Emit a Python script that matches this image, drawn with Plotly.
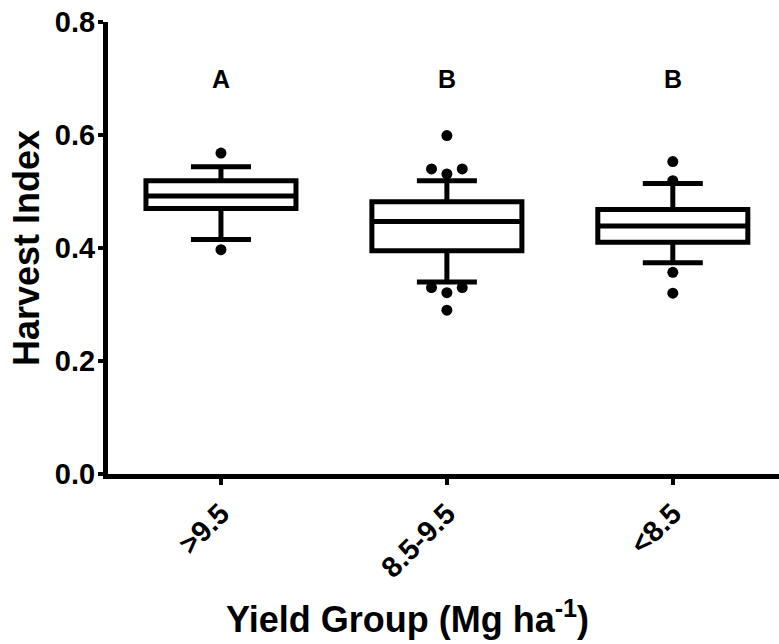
import plotly.graph_objects as go

# ---- data ----
categories = [">9.5", "8.5-9.5", "<8.5"]
q1 = [0.470, 0.395, 0.410]
median = [0.492, 0.447, 0.439]
q3 = [0.519, 0.482, 0.468]
lower_whisker = [0.415, 0.340, 0.374]
upper_whisker = [0.544, 0.519, 0.514]
outliers_g1 = [0.568, 0.397]
outliers_g2 = [0.599, 0.540, 0.531, 0.540, 0.330, 0.321, 0.330, 0.290]
outliers_g3 = [0.553, 0.519, 0.357, 0.320]
letters = ["A", "B", "B"]
letter_y = 0.70
y_ticks = [0.0, 0.2, 0.4, 0.6, 0.8]

FONT = "Arial, 'Liberation Sans', Helvetica, sans-serif"

# spread close outliers side by side (GraphPad-style)
def spread(vals, thr=0.015, step=0.068):
    vs = sorted(vals)
    clusters = []
    for v in vs:
        if clusters and v - clusters[-1][-1] < thr:
            clusters[-1].append(v)
        else:
            clusters.append([v])
    out = []
    for c in clusters:
        order = [0]
        k = 1
        while len(order) < len(c):
            order.append(-k)
            if len(order) < len(c):
                order.append(k)
            k += 1
        for v, o in zip(c, order):
            out.append((o * step, v))
    return out

xs, ys = [], []
for i, g in enumerate([outliers_g1, outliers_g2, outliers_g3]):
    for off, v in spread(g):
        xs.append(i + off)
        ys.append(v)

fig = go.Figure()
fig.add_trace(go.Box(
    x=[0, 1, 2],
    q1=q1, median=median, q3=q3,
    lowerfence=lower_whisker, upperfence=upper_whisker,
    width=0.664, whiskerwidth=0.40,
    fillcolor="white",
    line=dict(color="black", width=5),
    boxpoints=False,
    showlegend=False,
    hoverinfo="skip",
))
fig.add_trace(go.Scatter(
    x=xs, y=ys, mode="markers",
    marker=dict(color="black", size=11),
    showlegend=False, hoverinfo="skip",
))

for i, t in enumerate(letters):
    fig.add_annotation(x=i, y=letter_y, text=t, showarrow=False,
                       font=dict(family=FONT, size=25, color="black", weight="bold"))

# x-axis title (placed as annotation to match reference offset)
fig.add_annotation(x=0.447, xref="paper", y=0, yref="paper",
                   yanchor="middle", yshift=-143, showarrow=False,
                   text="Yield Group (Mg ha<sup>-1</sup>)",
                   font=dict(family=FONT, size=36, color="black", weight="bold"))

fig.update_layout(
    width=779, height=644,
    margin=dict(l=108, r=0, t=22, b=170, pad=0),
    plot_bgcolor="white", paper_bgcolor="white",
    font=dict(family=FONT, color="black", weight="bold"),
    xaxis=dict(
        range=[-0.5, 2.47],
        tickvals=[0, 1, 2], ticktext=categories,
        tickangle=-45,
        ticks="outside", ticklen=6, tickwidth=4, tickcolor="black",
        showline=True, linewidth=5, linecolor="black",
        showgrid=False, zeroline=False, automargin=False,
        ticklabeloverflow="allow",
        tickfont=dict(family=FONT, size=29, color="black", weight="bold"),
    ),
    yaxis=dict(
        range=[0, 0.8],
        tickvals=y_ticks, tickformat=".1f",
        ticks="outside", ticklen=5, tickwidth=4, tickcolor="black",
        showline=True, linewidth=5, linecolor="black",
        showgrid=False, zeroline=False, automargin=False,
        ticklabeloverflow="allow", ticklabelstandoff=-3,
        tickfont=dict(family=FONT, size=29, color="black", weight="bold"),
        title=dict(text="Harvest Index",
                   font=dict(family=FONT, size=36, color="black", weight="bold"),
                   standoff=6),
    ),
)

fig.write_html(
    "out.html",
    config={"displayModeBar": False},
    post_script="document.body.style.margin='0';document.body.style.overflow='hidden';",
)
